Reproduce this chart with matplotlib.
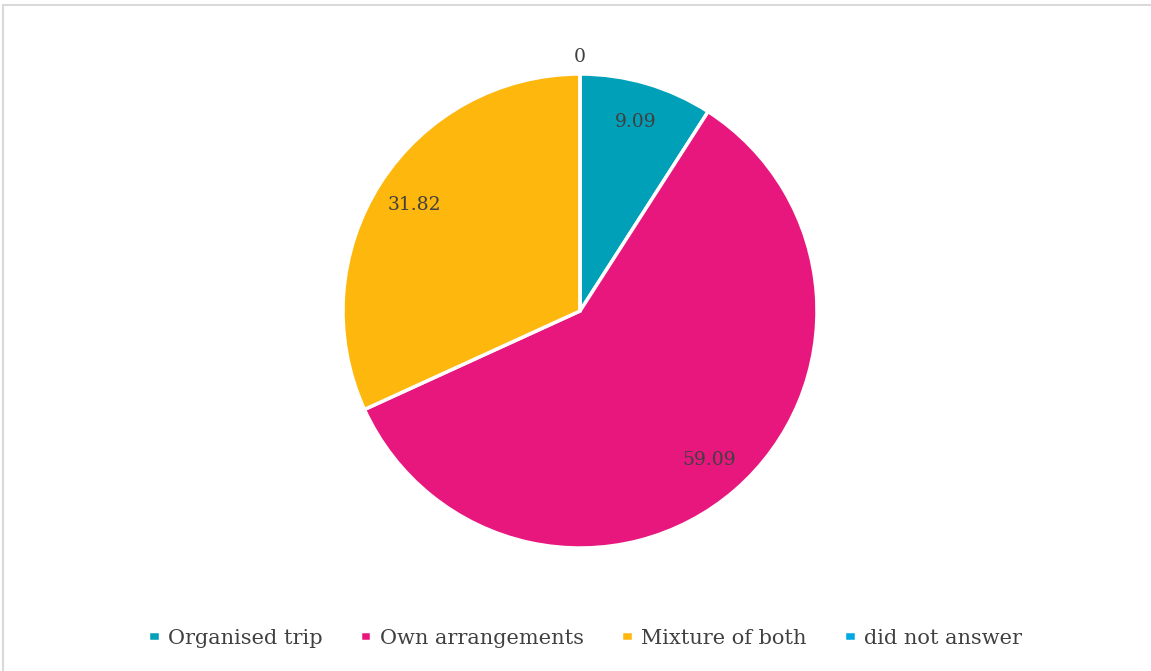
import numpy as np
import matplotlib.pyplot as plt
from matplotlib.patches import Rectangle

#data
categories=['Organised trip','Own arrangements','Mixture of both','did not answer']
values=[9.09,59.09,31.82,0]
colors=['#00A0B8','#E8177D','#FDB70D','#00A9E0']

plt.rcParams['font.family']=['DejaVu Serif']
text_color='#404040'

fig=plt.figure(figsize=(11.51,6.71),dpi=100)

#chart frame, only top and left edges visible
fig.patches.append(Rectangle((3/1151,-0.1),1.2,1.1-5/671,transform=fig.transFigure,
                             fill=False,edgecolor='#d9d9d9',linewidth=1.5))

#pie axes: center (580,311) px, radius 237 px
ax=fig.add_axes([343/1151,(671-311-237)/671,474/1151,474/671])

wedges,_=ax.pie(values,colors=colors,startangle=90,counterclock=False,
                wedgeprops=dict(edgecolor='white',linewidth=2.5),radius=1)
ax.set_xlim(-1,1)
ax.set_ylim(-1,1)
ax.set_aspect('equal')
ax.axis('off')

#data labels
for this_wedge,this_value in zip(wedges,values):
    
    mid=np.deg2rad((this_wedge.theta1+this_wedge.theta2)/2)
    
    #zero slice label sits outside
    dist=1.07 if this_value==0 else 0.83
    
    label='{:g}'.format(this_value)
    ax.text(dist*np.cos(mid),dist*np.sin(mid),label,ha='center',va='center',
            fontsize=13.5,color=text_color)

#legend
fig.legend(wedges,categories,loc='center',bbox_to_anchor=(585/1151,1-638/671),
           ncol=4,frameon=False,fontsize=15,handlelength=0.55,handleheight=0.3,
           handletextpad=0.4,columnspacing=1.8,labelcolor=text_color)

fig.savefig('out.png',dpi=100)
